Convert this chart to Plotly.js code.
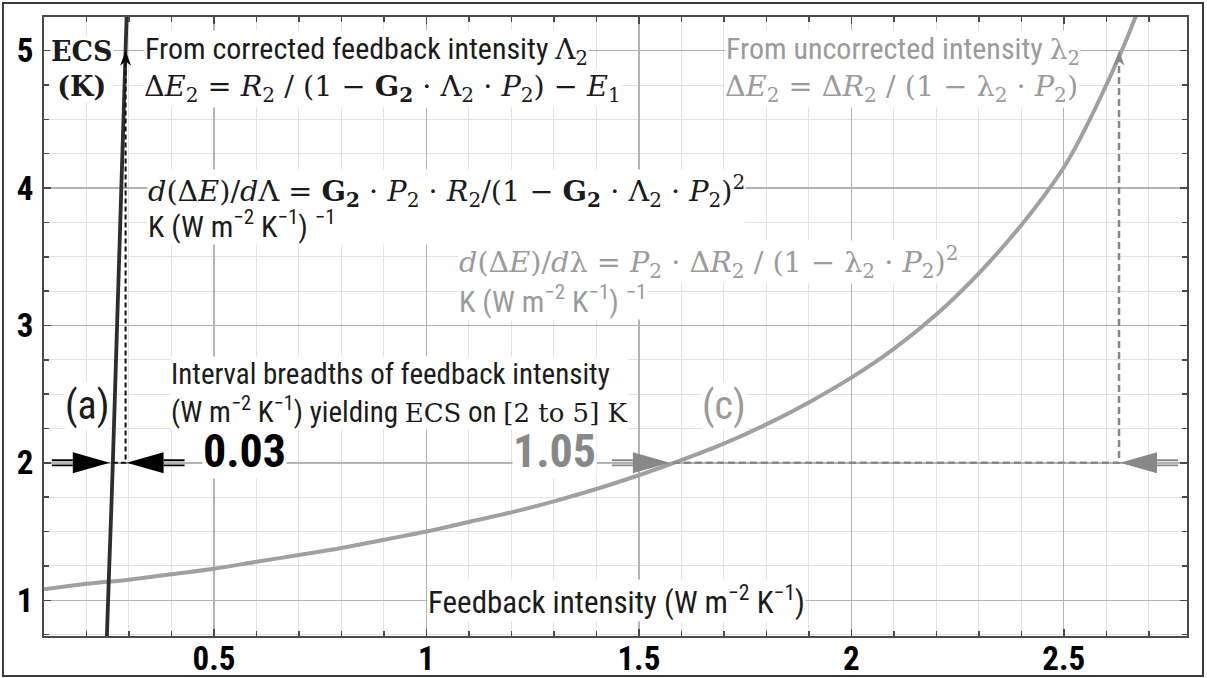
<!DOCTYPE html>
<html>
<head>
<meta charset="utf-8">
<script src="https://cdn.plot.ly/plotly-3.0.1.min.js"></script>
<style>
  html, body { margin: 0; padding: 0; background: #fff; }
  #chart { width: 1207px; height: 678px; }
</style>
</head>
<body>
<div id="chart"></div>
<script>
// ECS (K) against feedback intensity (W m-2 K-1), uncorrected intensity λ2
const uncorrIntensity = [0.1, 0.2, 0.3, 0.4, 0.5, 0.6, 0.7, 0.8, 0.9, 1.0, 1.1, 1.2, 1.3, 1.4,
  1.5, 1.6, 1.7, 1.8, 1.9, 2.0, 2.1, 2.2, 2.3, 2.4, 2.5, 2.55, 2.6, 2.65, 2.7];
const uncorrECS = [1.08, 1.12, 1.15, 1.19, 1.23, 1.28, 1.33, 1.38, 1.44, 1.50, 1.57, 1.64, 1.72, 1.81,
  1.91, 2.02, 2.14, 2.28, 2.44, 2.62, 2.83, 3.08, 3.38, 3.73, 4.15, 4.43, 4.75, 5.10, 5.50];

// ECS (K) against corrected feedback intensity Λ2
const corrIntensity = [0.248, 0.2535, 0.258, 0.262, 0.267, 0.272, 0.277, 0.282, 0.287, 0.292, 0.2945];
const corrECS = [0.74, 1.24, 1.63, 2.0, 2.5, 3.0, 3.5, 4.0, 4.5, 5.0, 5.25];

// ECS bounds (K) and the intensity intervals that yield them
const ecsBounds = [2, 5];
const corrStart = 0.262;
const corrBreadth = 0.03;
const uncorrStart = 1.58;
const uncorrBreadth = 1.05;

const xTickVals = [0.5, 1, 1.5, 2, 2.5];
const xTickText = ['0.5', '1', '1.5', '2', '2.5'];
const yTickVals = [1, 2, 3, 4, 5];
const yTickText = ['1', '2', '3', '4', '5'];

const corrEnd = corrStart + corrBreadth;
const uncorrEnd = uncorrStart + uncorrBreadth;

const SANS = 'Liberation Sans Narrow, Arial Narrow, Roboto Condensed, Roboto, sans-serif';
const SERIF = 'DejaVu Serif, Liberation Serif, serif';
const DARK = '#1b1b1b';
const GREY = '#9b9b9b';
const GREY_MARK = '#888888';
const MATH = 28.7;
const serif = (s, size) => '<span style="font-family:' + SERIF + (size ? ';font-size:' + size + 'px' : '') + '">' + s + '</span>';
const sized = (s, size) => '<span style="font-size:' + size + 'px">' + s + '</span>';

const traces = [
  { x: uncorrIntensity, y: uncorrECS, mode: 'lines', line: { color: '#a0a0a0', width: 4, shape: 'spline' }, hoverinfo: 'skip' },
  { x: corrIntensity, y: corrECS, mode: 'lines', line: { color: '#2e2e2e', width: 3.8, shape: 'spline' }, hoverinfo: 'skip' },
  { x: [corrStart, corrEnd, corrEnd], y: [ecsBounds[0], ecsBounds[0], ecsBounds[1]], mode: 'lines',
    line: { color: '#111', width: 2, dash: '5px,3px' }, hoverinfo: 'skip' },
  { x: [uncorrStart, uncorrEnd, uncorrEnd], y: [ecsBounds[0], ecsBounds[0], ecsBounds[1]], mode: 'lines',
    line: { color: GREY_MARK, width: 2.5, dash: '7px,4px' }, hoverinfo: 'skip' }
];

// Pixel-sized arrow parts anchored to data points
function pixShape(x, y, path, color, filled, width) {
  return {
    type: 'path', xref: 'x', yref: 'y', xsizemode: 'pixel', ysizemode: 'pixel',
    xanchor: x, yanchor: y, path: path,
    fillcolor: filled ? color : 'rgba(0,0,0,0)',
    line: { color: color, width: width || 0 }, layer: 'above'
  };
}
// horizontal double-shafted arrow; dir = +1 points right, -1 points left
function hArrow(x, y, color, dir, gap) {
  const s = -dir;
  const tip = s * gap, base = s * (gap + 37), tail = s * (gap + 58);
  return [
    pixShape(x, y, `M${tip},0 L${base},10.5 L${base},-10.5 Z`, color, true, 0),
    pixShape(x, y, `M${base},2.6 L${tail},2.6 M${base},-2.6 L${tail},-2.6`, color, false, 1.8)
  ];
}
function upHead(x, y, color) {
  return pixShape(x, y, 'M0,0 L-5.5,-15 L0,-10.5 L5.5,-15 Z', color, true, 0);
}

const shapes = [
  ...hArrow(corrStart, ecsBounds[0], '#000', +1, 3),
  ...hArrow(corrEnd, ecsBounds[0], '#000', -1, 1),
  ...hArrow(uncorrStart, ecsBounds[0], GREY_MARK, +1, 3),
  ...hArrow(uncorrEnd, ecsBounds[0], GREY_MARK, -1, 1),
  upHead(corrEnd, ecsBounds[1], '#000'),
  upHead(uncorrEnd, ecsBounds[1], GREY_MARK),
  // frame around the whole figure
  { type: 'rect', xref: 'paper', yref: 'paper', x0: -0.0359, x1: 1.0140, y0: -0.0646, y1: 1.0226,
    line: { color: '#3a3a3a', width: 2 }, fillcolor: 'rgba(0,0,0,0)' }
];

function note(text, x, y, opts) {
  return Object.assign({
    text: text, x: x, y: y, xref: 'x', yref: 'y', showarrow: false,
    bgcolor: '#ffffff', borderpad: 0, xanchor: 'left', yanchor: 'middle', align: 'left',
    font: { family: SANS, size: 30, color: DARK }
  }, opts || {});
}
const supUnit = 'W m<sup>−2</sup> K<sup>−1</sup>';
const unitText = 'K (' + supUnit + ') <sup>−1</sup>';

const annotations = [
  note('<b>ECS</b><br><b>(K)</b>', 0.189, 4.87, { xanchor: 'center', align: 'center', font: { family: SERIF, size: 27, color: DARK } }),
  note('From corrected feedback intensity ' + serif('Λ<sub>2</sub>', 28), 0.336, 5.0),
  note('Δ<i>E</i><sub>2</sub> = <i>R</i><sub>2</sub> / (1 − <b>G<sub>2</sub></b> · Λ<sub>2</sub> · <i>P</i><sub>2</sub>) − <i>E</i><sub>1</sub>',
    0.334, 4.73, { font: { family: SERIF, size: MATH, color: DARK } }),
  note(serif('<i>d</i>(Δ<i>E</i>)/<i>d</i>Λ = <b>G<sub>2</sub></b> · <i>P</i><sub>2</sub> · <i>R</i><sub>2</sub>/(1 − <b>G<sub>2</sub></b> · Λ<sub>2</sub> · <i>P</i><sub>2</sub>)<sup>2</sup>', MATH)
    + '<br>' + sized(unitText, 30),
    0.342, 3.86, { font: { family: SANS, size: 27.7, color: DARK } }),

  note('From uncorrected intensity ' + serif('λ<sub>2</sub>', 28), 2.540, 5.0, { xanchor: 'right', font: { family: SANS, size: 30, color: GREY } }),
  note('Δ<i>E</i><sub>2</sub> = Δ<i>R</i><sub>2</sub> / (1 − λ<sub>2</sub> · <i>P</i><sub>2</sub>)',
    2.535, 4.73, { xanchor: 'right', font: { family: SERIF, size: MATH, color: GREY } }),
  note('<i>d</i>(Δ<i>E</i>)/<i>d</i>λ = <i>P</i><sub>2</sub> · Δ<i>R</i><sub>2</sub> / (1 − λ<sub>2</sub> · <i>P</i><sub>2</sub>)<sup>2</sup>',
    1.075, 3.46, { font: { family: SERIF, size: MATH, color: GREY } }),
  note(unitText, 1.075, 3.19, { font: { family: SANS, size: 30, color: GREY } }),

  note('(a)', 0.201, 2.42, { xanchor: 'center', font: { family: SANS, size: 40, color: DARK } }),
  note('(c)', 1.701, 2.42, { xanchor: 'center', font: { family: SANS, size: 40, color: GREY } }),
  note(corrBreadth.toFixed(2), 0.571, 2.09, { xanchor: 'center', font: { family: SANS, size: 46, color: '#000', weight: 'bold' } }),
  note(uncorrBreadth.toFixed(2), 1.301, 2.09, { xanchor: 'center', font: { family: SANS, size: 46, color: GREY_MARK, weight: 'bold' } }),
  note('Interval breadths of feedback intensity<br>(' + supUnit + ') yielding ' + serif('ECS', 26) + ' on ' + serif('[2 to 5] K', 26),
    0.396, 2.51, { font: { family: SANS, size: 29, color: DARK } }),
  note('Feedback intensity (' + supUnit + ')', 1.447, 0.995, { xanchor: 'center', font: { family: SANS, size: 31, color: DARK } })
];

const axisCommon = {
  showline: true, linecolor: '#4a4a4a', linewidth: 2, mirror: 'ticks',
  ticks: 'inside', ticklen: 7, tickwidth: 1.5, tickcolor: '#4a4a4a',
  showgrid: true, gridcolor: '#b4b4b4', gridwidth: 1.3, zeroline: false,
  tickfont: { family: SANS, size: 33, color: '#000', weight: 'bold' },
  fixedrange: true
};

const layout = {
  width: 1207, height: 678,
  margin: { l: 44, r: 20, t: 17, b: 42, pad: 0 },
  paper_bgcolor: '#ffffff', plot_bgcolor: '#ffffff',
  showlegend: false,
  xaxis: Object.assign({}, axisCommon, {
    range: [0.1, 2.79], tickmode: 'array', tickvals: xTickVals, ticktext: xTickText,
    ticklabelstandoff: -8,
    minor: { dtick: 0.1, tick0: 0, showgrid: true, gridcolor: '#e2e2e2', gridwidth: 1, ticks: 'inside', ticklen: 5, tickcolor: '#4a4a4a' }
  }),
  yaxis: Object.assign({}, axisCommon, {
    range: [0.74, 5.245], tickmode: 'array', tickvals: yTickVals, ticktext: yTickText,
    ticklabelstandoff: 2,
    minor: { dtick: 0.25, tick0: 0, showgrid: true, gridcolor: '#e2e2e2', gridwidth: 1, ticks: 'inside', ticklen: 5, tickcolor: '#4a4a4a' }
  }),
  shapes: shapes,
  annotations: annotations
};

Plotly.newPlot('chart', traces, layout, { displayModeBar: false, staticPlot: true });
</script>
</body>
</html>
